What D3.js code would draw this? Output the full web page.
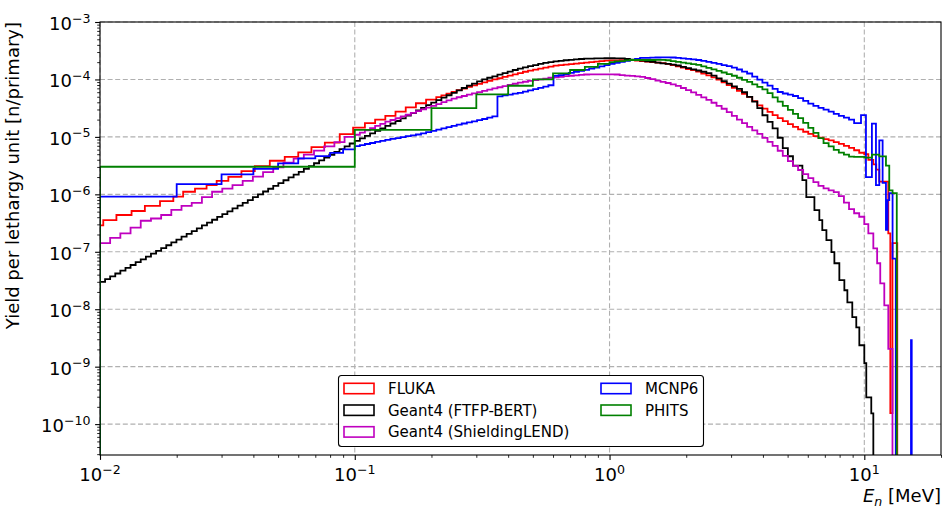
<!DOCTYPE html>
<html>
<head>
<meta charset="utf-8">
<script src="https://cdn.jsdelivr.net/npm/d3@7"></script>
<style>
  body { margin: 0; background: #fff; }
  svg { display: block; }
  text { font-family: "DejaVu Sans", sans-serif; fill: #000; }
</style>
</head>
<body>
<svg id="chart" width="943" height="508"></svg>
<script>
// bin edges (MeV), 50 per decade, shared by several series
const fineGrid = [
  0.01, 0.01047, 0.01096, 0.01148, 0.01202, 0.01259, 0.01318, 0.0138, 0.01445, 0.01514,
  0.01585, 0.0166, 0.01738, 0.0182, 0.01905, 0.01995, 0.02089, 0.02188, 0.02291, 0.02399,
  0.02512, 0.0263, 0.02754, 0.02884, 0.0302, 0.03162, 0.03311, 0.03467, 0.03631, 0.03802,
  0.03981, 0.04169, 0.04365, 0.04571, 0.04786, 0.05012, 0.05248, 0.05495, 0.05754, 0.06026,
  0.0631, 0.06607, 0.06918, 0.07244, 0.07586, 0.07943, 0.08318, 0.0871, 0.0912, 0.0955,
  0.1, 0.1047, 0.1096, 0.1148, 0.1202, 0.1259, 0.1318, 0.138, 0.1445, 0.1514,
  0.1585, 0.166, 0.1738, 0.182, 0.1905, 0.1995, 0.2089, 0.2188, 0.2291, 0.2399,
  0.2512, 0.263, 0.2754, 0.2884, 0.302, 0.3162, 0.3311, 0.3467, 0.3631, 0.3802,
  0.3981, 0.4169, 0.4365, 0.4571, 0.4786, 0.5012, 0.5248, 0.5495, 0.5754, 0.6026,
  0.631, 0.6607, 0.6918, 0.7244, 0.7586, 0.7943, 0.8318, 0.871, 0.912, 0.955,
  1, 1.047, 1.096, 1.148, 1.202, 1.259, 1.318, 1.38, 1.445, 1.514,
  1.585, 1.66, 1.738, 1.82, 1.905, 1.995, 2.089, 2.188, 2.291, 2.399,
  2.512, 2.63, 2.754, 2.884, 3.02, 3.162, 3.311, 3.467, 3.631, 3.802,
  3.981, 4.169, 4.365, 4.571, 4.786, 5.012, 5.248, 5.495, 5.754, 6.026,
  6.31, 6.607, 6.918, 7.244, 7.586, 7.943, 8.318, 8.71, 9.12, 9.55,
  10
];

// FLUKA
const flukaE = [
  0.01, 0.0103, 0.0116, 0.0133, 0.015, 0.0172, 0.0194, 0.0212, 0.0236, 0.0262,
  0.0287, 0.0319, 0.0359, 0.0405, 0.0464, 0.0531, 0.06, 0.0676, 0.0763, 0.0873, 0.0985,
  0.1096, 0.1202, 0.1318, 0.1445, 0.1585, 0.1738, 0.1905
].concat(fineGrid.slice(66, 151), [10.37, 10.85, 11.14, 11.45, 12.42, 12.65, 12.9, 13.47]);
const flukaY = [
  2.88e-7, 3.55e-7, 4.37e-7, 5.13e-7, 6.31e-7, 7.59e-7, 9.12e-7, 1.11e-6, 1.26e-6, 1.45e-6,
  1.72e-6, 2.02e-6, 2.54e-6, 3.09e-6, 3.84e-6, 4.50e-6, 5.37e-6, 6.61e-6, 7.94e-6, 1.12e-5,
  1.45e-5, 1.74e-5, 2.0e-5, 2.33e-5, 2.75e-5, 3.26e-5, 3.85e-5, 4.44e-5,
  4.93e-5, 5.28e-5, 5.68e-5, 6.10e-5,
  6.53e-5, 6.95e-5, 7.40e-5, 7.87e-5, 8.36e-5, 8.91e-5, 9.48e-5,
  1.00e-4, 1.05e-4, 1.11e-4, 1.17e-4, 1.23e-4, 1.29e-4,
  1.36e-4, 1.42e-4, 1.48e-4, 1.54e-4, 1.60e-4, 1.67e-4,
  1.74e-4, 1.77e-4, 1.81e-4, 1.85e-4, 1.89e-4, 1.93e-4, 1.97e-4,
  2.01e-4, 2.05e-4, 2.08e-4, 2.12e-4,
  2.14e-4, 2.15e-4, 2.16e-4, 2.17e-4, 2.18e-4,
  2.13e-4, 2.09e-4, 2.05e-4, 2.01e-4, 1.97e-4, 1.93e-4,
  1.87e-4, 1.78e-4, 1.69e-4, 1.60e-4, 1.52e-4, 1.45e-4, 1.37e-4,
  1.27e-4, 1.18e-4, 1.09e-4,
  9.91e-5, 8.89e-5, 7.96e-5,
  7.11e-5, 6.32e-5, 5.61e-5,
  4.97e-5, 4.18e-5,
  3.53e-5, 3.10e-5, 2.72e-5,
  2.40e-5, 2.12e-5, 1.88e-5,
  1.67e-5, 1.50e-5,
  1.35e-5, 1.23e-5, 1.13e-5, 1.03e-5,
  9.72e-6, 9.18e-6, 8.67e-6,
  8.09e-6, 7.53e-6, 7.00e-6,
  6.44e-6, 5.85e-6, 5.30e-6,
  5.01e-6, 3.98e-6, 3.31e-6, 2.69e-6, 1.66e-6, 2.09e-7, 1.55e-10, 1.41e-7
];

// Geant4 (FTFP-BERT)
const ftfpE = fineGrid.slice(0, 137).concat([
  5.714, 5.92, 6.37, 6.66, 6.84, 7.10, 7.43, 7.63, 7.98, 8.35, 8.58, 8.97, 9.30, 9.56,
  10.0, 10.18, 10.65, 10.85
]);
const ftfpY = [
  2.99e-8, 3.34e-8, 3.74e-8, 4.19e-8, 4.69e-8, 5.26e-8, 5.89e-8, 6.59e-8, 7.38e-8, 8.26e-8,
  9.27e-8, 1.04e-7, 1.16e-7, 1.30e-7, 1.46e-7, 1.63e-7, 1.83e-7, 2.05e-7, 2.29e-7, 2.56e-7,
  2.88e-7, 3.22e-7, 3.61e-7, 4.04e-7, 4.52e-7, 5.07e-7, 5.68e-7, 6.35e-7, 7.11e-7, 7.96e-7,
  8.93e-7, 1.00e-6, 1.12e-6, 1.25e-6, 1.40e-6, 1.57e-6, 1.76e-6, 1.97e-6, 2.21e-6, 2.47e-6,
  2.77e-6, 3.10e-6, 3.48e-6, 3.89e-6, 4.36e-6, 4.89e-6, 5.47e-6, 6.12e-6, 6.85e-6, 7.67e-6,
  8.55e-6, 9.44e-6, 1.04e-5, 1.15e-5, 1.27e-5, 1.40e-5, 1.55e-5, 1.71e-5, 1.89e-5, 2.10e-5,
  2.34e-5, 2.60e-5, 2.89e-5, 3.21e-5, 3.57e-5, 3.96e-5, 4.37e-5, 4.82e-5, 5.31e-5, 5.85e-5,
  6.44e-5, 7.10e-5, 7.78e-5, 8.49e-5, 9.27e-5, 1.00e-4, 1.07e-4, 1.13e-4, 1.21e-4, 1.29e-4,
  1.37e-4, 1.46e-4, 1.54e-4, 1.62e-4, 1.70e-4, 1.78e-4, 1.86e-4, 1.94e-4, 2.01e-4, 2.06e-4,
  2.11e-4, 2.16e-4, 2.20e-4, 2.23e-4, 2.27e-4, 2.30e-4, 2.31e-4, 2.32e-4, 2.33e-4, 2.34e-4,
  2.34e-4, 2.33e-4, 2.32e-4, 2.27e-4, 2.22e-4, 2.18e-4, 2.13e-4, 2.07e-4, 2.02e-4, 1.97e-4,
  1.91e-4, 1.86e-4, 1.81e-4, 1.75e-4, 1.66e-4, 1.58e-4, 1.50e-4, 1.43e-4, 1.36e-4, 1.29e-4,
  1.17e-4, 1.04e-4, 9.37e-5, 8.43e-5, 7.60e-5, 6.87e-5, 5.98e-5, 4.97e-5, 4.11e-5, 3.18e-5,
  2.38e-5, 1.82e-5, 1.41e-5, 9.66e-6, 6.40e-6, 4.60e-6,
  3.16e-6, 1.77e-6, 8.93e-7, 5.31e-7, 3.56e-7, 2.38e-7, 1.59e-7, 9.84e-8, 6.32e-8, 3.20e-8,
  2.14e-8, 1.32e-8, 7.26e-9, 4.85e-9, 2.36e-9, 1.15e-9, 2.93e-10, 1.54e-10
];

// Geant4 (ShieldingLEND)
const lendE = [
  0.01, 0.01096, 0.01202, 0.01318, 0.01445, 0.01585, 0.01738, 0.01905, 0.02089, 0.02291,
  0.02512, 0.02754, 0.0302, 0.03311, 0.03631, 0.03981, 0.04365, 0.04786, 0.05248, 0.05754,
  0.0631, 0.06918, 0.07586, 0.08318, 0.0912
].concat(fineGrid.slice(50, 151), [10.37, 10.85, 11.23, 11.55, 11.98, 12.42, 12.9]);
const lendY = [
  1.41e-7, 1.74e-7, 2.09e-7, 2.63e-7, 3.47e-7, 3.80e-7, 4.37e-7, 5.37e-7, 6.31e-7, 7.08e-7,
  8.91e-7, 1.11e-6, 1.26e-6, 1.45e-6, 1.72e-6, 2.04e-6, 2.43e-6, 2.95e-6, 3.55e-6, 4.17e-6,
  4.90e-6, 5.75e-6, 6.84e-6, 8.13e-6, 1.0e-5,
  1.09e-5, 1.19e-5, 1.30e-5, 1.42e-5, 1.55e-5, 1.69e-5,
  1.84e-5, 1.97e-5, 2.11e-5, 2.27e-5, 2.43e-5, 2.61e-5, 2.80e-5,
  3.01e-5, 3.24e-5, 3.48e-5, 3.73e-5, 4.02e-5, 4.32e-5, 4.65e-5,
  4.90e-5, 5.15e-5, 5.43e-5, 5.71e-5, 6.01e-5, 6.34e-5,
  6.65e-5, 6.97e-5, 7.31e-5, 7.66e-5, 8.02e-5, 8.41e-5, 8.81e-5,
  9.12e-5, 9.42e-5, 9.71e-5, 1.00e-4, 1.03e-4, 1.07e-4,
  1.09e-4, 1.11e-4, 1.14e-4, 1.16e-4, 1.18e-4, 1.20e-4, 1.22e-4,
  1.23e-4, 1.23e-4, 1.23e-4, 1.23e-4, 1.23e-4,
  1.22e-4, 1.19e-4, 1.17e-4, 1.15e-4, 1.13e-4,
  1.11e-4, 1.06e-4, 1.01e-4, 9.57e-5, 9.10e-5, 8.67e-5, 8.24e-5,
  7.74e-5, 7.10e-5, 6.52e-5,
  5.96e-5, 5.40e-5, 4.88e-5, 4.41e-5,
  3.93e-5, 3.48e-5, 3.09e-5,
  2.70e-5, 2.33e-5, 2.00e-5,
  1.73e-5, 1.50e-5, 1.30e-5,
  1.13e-5, 9.64e-6, 8.22e-6, 7.00e-6,
  5.74e-6, 4.66e-6, 3.78e-6,
  3.13e-6, 2.65e-6, 2.24e-6,
  1.91e-6, 1.63e-6, 1.40e-6,
  1.27e-6, 1.17e-6, 1.09e-6,
  9.31e-7, 7.18e-7, 5.52e-7,
  4.69e-7, 4.07e-7,
  3.02e-7, 2.09e-7, 1.15e-7, 6.31e-8, 2.82e-8, 1.17e-8, 2.04e-9
];

// MCNP6
const mcnpE = [0.01, 0.02, 0.03, 0.04, 0.05, 0.06, 0.07, 0.08, 0.09]
  .concat(fineGrid.slice(50, 149),
    [9.706, 10.15, 10.71, 11.11, 11.45, 11.8, 12.16, 12.34, 12.53, 12.91, 13.29, 15.25, 15.35]);
const mcnpY = [
  9.12e-7, 1.51e-6, 2.22e-6, 2.78e-6, 3.47e-6, 4.22e-6, 4.62e-6, 5.28e-6, 6.05e-6,
  6.90e-6, 7.19e-6, 7.52e-6, 7.83e-6, 8.17e-6, 8.51e-6,
  8.87e-6, 9.20e-6, 9.55e-6, 9.91e-6, 1.03e-5, 1.06e-5, 1.10e-5,
  1.15e-5, 1.21e-5, 1.27e-5, 1.34e-5, 1.41e-5, 1.48e-5,
  1.56e-5, 1.63e-5, 1.71e-5, 1.79e-5, 1.87e-5, 1.96e-5, 2.05e-5,
  2.16e-5, 2.28e-5,
  5.09e-5, 5.27e-5, 5.46e-5, 5.65e-5, 5.83e-5,
  6.12e-5, 6.44e-5, 6.79e-5, 7.14e-5, 7.52e-5, 7.92e-5,
  1.15e-4, 1.19e-4, 1.24e-4, 1.30e-4, 1.35e-4, 1.41e-4, 1.47e-4,
  1.54e-4, 1.61e-4, 1.69e-4, 1.77e-4, 1.86e-4,
  1.95e-4, 2.02e-4, 2.10e-4, 2.19e-4,
  2.28e-4,
  2.37e-4, 2.38e-4, 2.40e-4, 2.41e-4, 2.42e-4,
  2.42e-4, 2.41e-4,
  2.38e-4, 2.33e-4, 2.28e-4, 2.23e-4, 2.18e-4,
  2.10e-4, 2.02e-4, 1.95e-4,
  1.86e-4, 1.78e-4, 1.71e-4,
  1.61e-4, 1.49e-4, 1.37e-4,
  1.27e-4, 1.12e-4, 9.95e-5, 8.83e-5,
  7.80e-5, 6.87e-5, 6.05e-5,
  5.69e-5,
  5.46e-5, 5.15e-5,
  4.73e-5, 4.22e-5,
  3.80e-5, 3.47e-5,
  3.20e-5, 2.99e-5,
  2.75e-5, 2.51e-5,
  2.32e-5, 2.16e-5,
  2.0e-5,
  1.74e-5,
  2.40e-5, 2.0e-6, 1.70e-5, 1.45e-6, 8.71e-6, 1.58e-6, 2.40e-7, 7.94e-7, 1.05e-6, 7.59e-8,
  0, 2.9e-9
];

// PHITS
const phitsE = [0.01, 0.1, 0.2, 0.3, 0.4, 0.5, 0.6, 0.7, 0.8, 0.9]
  .concat(fineGrid.slice(100, 151), [10.71, 11.45, 12.16, 12.53, 12.91, 13.41]);
const phitsY = [
  3.02e-6, 1.32e-5, 3.16e-5, 5.50e-5, 7.76e-5, 1.0e-4, 1.28e-4, 1.46e-4, 1.66e-4, 1.86e-4,
  2.01e-4, 2.06e-4, 2.09e-4, 2.14e-4, 2.18e-4,
  2.18e-4, 2.18e-4, 2.18e-4, 2.18e-4, 2.19e-4, 2.19e-4,
  2.16e-4, 2.09e-4, 2.03e-4, 1.97e-4, 1.91e-4, 1.85e-4, 1.79e-4,
  1.69e-4, 1.59e-4, 1.50e-4,
  1.41e-4, 1.32e-4, 1.24e-4,
  1.16e-4, 1.07e-4, 9.84e-5,
  9.08e-5, 8.22e-5, 7.43e-5, 6.73e-5,
  5.79e-5, 4.88e-5, 4.11e-5,
  3.48e-5, 2.96e-5, 2.52e-5,
  2.13e-5, 1.75e-5, 1.43e-5, 1.17e-5,
  9.55e-6, 7.78e-6,
  6.84e-6, 5.96e-6,
  5.32e-6, 4.92e-6, 4.55e-6, 4.49e-6, 4.48e-6,
  4.37e-6, 4.90e-6, 4.57e-6, 3.16e-6, 1.17e-6, 1.05e-6
];

const seriesNames = ["FLUKA", "Geant4 (FTFP-BERT)", "Geant4 (ShieldingLEND)", "MCNP6", "PHITS"];
const seriesColors = ["#ff0000", "#000000", "#bf00bf", "#0000ff", "#008000"];
const seriesEdges = [flukaE, ftfpE, lendE, mcnpE, phitsE];
const seriesValues = [flukaY, ftfpY, lendY, mcnpY, phitsY];

const xTickExps = [-2, -1, 0, 1];
const yTickExps = [-3, -4, -5, -6, -7, -8, -9, -10];

const M = { left: 100, right: 941, top: 22, bottom: 455 };
const svg = d3.select("#chart");

const x = d3.scaleLog().domain([0.01, 20]).range([M.left, M.right]);
const y = d3.scaleLog().domain([2.9e-11, 1e-3]).range([M.bottom, M.top]);

// grid
const gridG = svg.append("g")
  .attr("stroke", "#b0b0b0")
  .attr("stroke-width", 1.1)
  .attr("stroke-dasharray", "5,2.6");
xTickExps.forEach((e) => {
  const px = x(10 ** e);
  gridG.append("line").attr("x1", px).attr("x2", px).attr("y1", M.top).attr("y2", M.bottom);
});
yTickExps.forEach((e) => {
  const py = y(10 ** e);
  gridG.append("line").attr("x1", M.left).attr("x2", M.right).attr("y1", py).attr("y2", py);
});

// histograms
svg.append("clipPath").attr("id", "plotClip")
  .append("rect")
  .attr("x", M.left).attr("y", M.top)
  .attr("width", M.right - M.left).attr("height", M.bottom - M.top);

/**
 * bin edges + values -> points for a step outline that starts and ends at zero
 */
function stepPoints(edges, values, name) {
  if (edges.length !== values.length + 1) {
    throw new Error(`${name}: ${edges.length} edges for ${values.length} values`);
  }
  const pts = [[edges[0], 0]];
  values.forEach((v, i) => pts.push([edges[i], v]));
  pts.push([edges[edges.length - 1], values[values.length - 1]]);
  pts.push([edges[edges.length - 1], 0]);
  return pts;
}

const stepLine = d3.line()
  .curve(d3.curveStepAfter)
  .x((d) => x(d[0]))
  .y((d) => (d[1] > 0 ? y(d[1]) : M.bottom + 30));

const linesG = svg.append("g").attr("clip-path", "url(#plotClip)");
seriesNames.forEach((name, i) => {
  linesG.append("path")
    .attr("d", stepLine(stepPoints(seriesEdges[i], seriesValues[i], name)))
    .attr("fill", "none")
    .attr("stroke", seriesColors[i])
    .attr("stroke-width", 1.8)
    .attr("stroke-linejoin", "miter");
});

// frame
svg.append("rect")
  .attr("x", M.left).attr("y", M.top)
  .attr("width", M.right - M.left).attr("height", M.bottom - M.top)
  .attr("fill", "none").attr("stroke", "#000").attr("stroke-width", 1.1);

// ticks
const xMajor = xTickExps.map((e) => 10 ** e);
const yMajor = yTickExps.map((e) => 10 ** e);
const xMinor = [];
xTickExps.forEach((e) => {
  for (let m = 2; m <= 9; m++) {
    const v = m * 10 ** e;
    if (v <= 20.001) xMinor.push(v);
  }
});
const yMinor = [];
for (let e = -11; e <= -4; e++) {
  for (let m = 2; m <= 9; m++) {
    const v = m * 10 ** e;
    if (v >= 2.9e-11 && v <= 1e-3) yMinor.push(v);
  }
}

function drawAxis(axis, transform, width) {
  const g = svg.append("g").attr("transform", transform).call(axis);
  g.select(".domain").remove();
  g.selectAll("line").attr("stroke", "#000").attr("stroke-width", width);
  g.selectAll("text").remove();
}
drawAxis(d3.axisBottom(x).tickValues(xMajor).tickSize(4.9).tickFormat(""), `translate(0,${M.bottom})`, 1.1);
drawAxis(d3.axisBottom(x).tickValues(xMinor).tickSize(2.8).tickFormat(""), `translate(0,${M.bottom})`, 0.85);
drawAxis(d3.axisLeft(y).tickValues(yMajor).tickSize(4.9).tickFormat(""), `translate(${M.left},0)`, 1.1);
drawAxis(d3.axisLeft(y).tickValues(yMinor).tickSize(2.8).tickFormat(""), `translate(${M.left},0)`, 0.85);

// tick labels 10^n
function powerLabel(sel, exp) {
  sel.append("tspan").text("10");
  sel.append("tspan").attr("dy", -7.5).attr("font-size", 12.6).text(String(exp).replace("-", "\u2212"));
}
xTickExps.forEach((e) => {
  const t = svg.append("text")
    .attr("x", x(10 ** e)).attr("y", 481)
    .attr("text-anchor", "middle").attr("font-size", 18);
  powerLabel(t, e);
});
yTickExps.forEach((e) => {
  const t = svg.append("text")
    .attr("x", 90.5).attr("y", y(10 ** e) + 8)
    .attr("text-anchor", "end").attr("font-size", 18);
  powerLabel(t, e);
});

// axis labels
const xl = svg.append("text")
  .attr("x", M.right).attr("y", 502)
  .attr("text-anchor", "end").attr("font-size", 18);
xl.append("tspan").attr("font-style", "italic").text("E");
xl.append("tspan").attr("font-style", "italic").attr("font-size", 12.6).attr("dy", 3.5).text("n");
xl.append("tspan").attr("dy", -3.5).text(" [MeV]");

svg.append("text")
  .attr("transform", `translate(19,${M.top}) rotate(-90)`)
  .attr("text-anchor", "end").attr("font-size", 18)
  .text("Yield per lethargy unit [n/primary]");

// legend
const legend = svg.append("g");
legend.append("rect")
  .attr("x", 338.5).attr("y", 375.5).attr("width", 365).attr("height", 71).attr("rx", 3)
  .attr("fill", "#fff").attr("stroke", "#000").attr("stroke-width", 1.1);
const legCols = [[0, 1, 2], [3, 4]];
const colX = [344, 601];
legCols.forEach((col, c) => {
  col.forEach((idx, r) => {
    const cy = 388.5 + r * 21.7;
    legend.append("rect")
      .attr("x", colX[c]).attr("y", cy - 5.2).attr("width", 30).attr("height", 10.4)
      .attr("fill", "none").attr("stroke", seriesColors[idx]).attr("stroke-width", 1.6);
    legend.append("text")
      .attr("x", colX[c] + 44).attr("y", cy + 5.5)
      .attr("font-size", 15)
      .text(seriesNames[idx]);
  });
});
</script>
</body>
</html>
